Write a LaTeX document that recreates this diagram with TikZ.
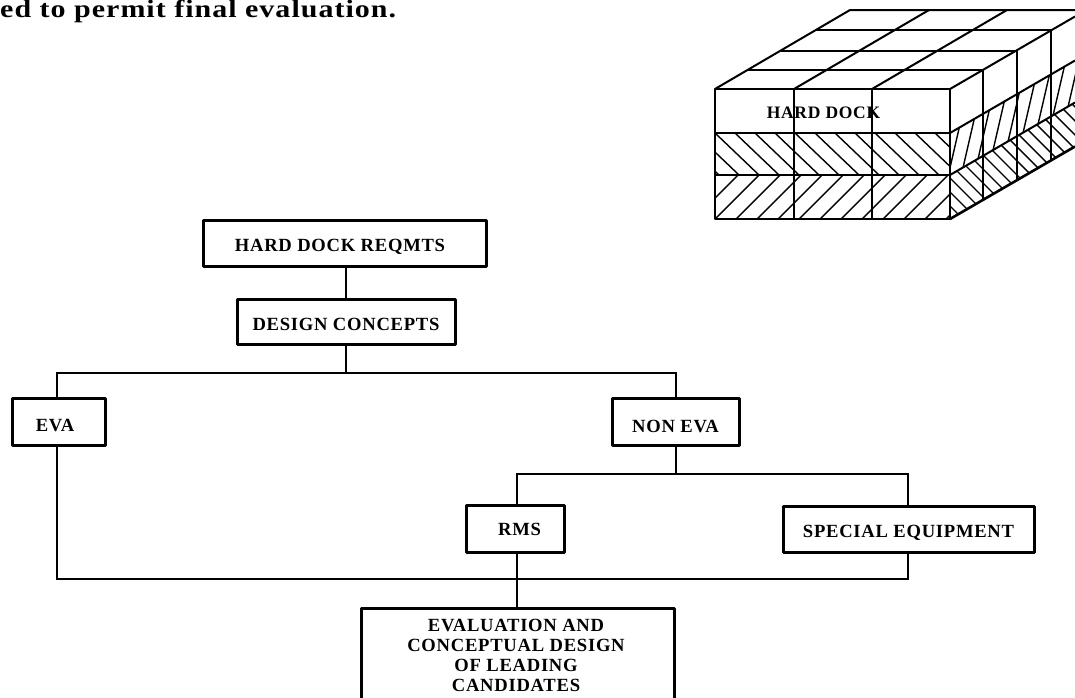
\documentclass[tikz,border=0pt]{standalone}
\usepackage{fontspec}
\setmainfont{Liberation Serif}[BoldFont={* Bold}]
\newcommand{\lbl}{\fontsize{18.6}{20}\selectfont\bfseries\addfontfeatures{LetterSpace=4}}
\newcommand{\lblcube}{\fontsize{17.5}{21}\selectfont\bfseries\addfontfeatures{LetterSpace=4}}
\newfontfamily\parafont{Liberation Serif Bold}[FakeStretch=1.2,LetterSpace=4]
\begin{document}
\begin{tikzpicture}[x=1pt,y=-1pt,
  flowbox/.style={draw=black,line width=3pt,line join=round,inner sep=0pt,font=\lbl,align=center,fill=white,text depth=0pt},
  conn/.style={draw=black,line width=1.8pt,line join=miter},
  edge3d/.style={draw=black,line width=2pt,line join=round},
  hatchline/.style={draw=black,line width=1.4pt},
  plain/.style={inner sep=0pt,align=center}]
\useasboundingbox (0,0) rectangle (1075,697);
\clip (0,0) rectangle (1075,697);

% running text
\node[inner sep=0pt,anchor=base west,font=\fontsize{25}{27}\parafont] (para) at (0,17.5) {ed to permit final evaluation.};

% hatching, front
\begin{scope}
  \clip (715,133) rectangle (950,175);
  \foreach \k in {-3,...,12} \draw[hatchline] (715+\k*20,133) -- ++(44,42);
\end{scope}
\begin{scope}
  \clip (715,175) rectangle (950,219);
  \foreach \k in {-1,...,13} \draw[hatchline] (715+\k*21,219) -- ++(44,-44);
\end{scope}
% hatching, side
\begin{scope}
  \clip (950,133) -- (1075,60.5) -- (1075,102.5) -- (950,175) -- cycle;
  \foreach \k in {0,...,10} \draw[hatchline] (946+\k*13,185) -- ++(30,-130);
\end{scope}
\begin{scope}
  \clip (950,175) -- (1075,102.5) -- (1075,146.5) -- (950,219) -- cycle;
  \foreach \k in {-6,...,15} \draw[hatchline] (890+\k*14,90) -- ++(140,140);
\end{scope}

% block outline
\draw[edge3d,line width=2.6pt] (715,89) rectangle (950,219);
\draw[edge3d] (715,133) -- (950,133) (715,175) -- (950,175);
\draw[edge3d] (794,89) -- (794,219) (872,89) -- (872,219);
\draw[edge3d] (715,89) -- (850,10) -- (1075,10);
\draw[edge3d] (794,89) -- (929,10) (872,89) -- (1007,10);
\draw[edge3d] (950,89) -- (1075,16.5);
\draw[edge3d] (747,70) -- (983,70) (781,51) -- (1017,51) (816,30) -- (1051,30);
\draw[edge3d] (950,133) -- (1075,60.5) (950,175) -- (1075,102.5);
\draw[edge3d,line width=2.6pt] (950,219) -- (1075,146.5);
\draw[edge3d] (983,70) -- (983,200) (1017,50) -- (1017,180) (1051,30) -- (1051,160);
\node[plain,font=\lblcube] (hdlabel) at (823.5,113) {HARD DOCK};

% junctions
\coordinate (j1) at (346,373);
\coordinate (jL) at (57,373);
\coordinate (jR) at (676,373);
\coordinate (j2) at (676,474);
\coordinate (j2L) at (517,474);
\coordinate (j2R) at (908,474);
\coordinate (j3) at (517,579);
\coordinate (j3L) at (57,579);
\coordinate (j3R) at (908,579);

% boxes
\node[flowbox,text height=17.4pt,minimum width=283pt,minimum height=46pt] (hd) at (344.5,243) {HARD DOCK REQMTS\hspace{9pt}};
\node[flowbox,text height=17pt,minimum width=218pt,minimum height=45pt] (dc) at (346,321.5) {DESIGN CONCEPTS};
\node[flowbox,text height=19pt,minimum width=93pt,minimum height=47pt] (eva) at (58.5,421.5) {EVA\hspace{7pt}};
\node[flowbox,text height=22pt,minimum width=127pt,minimum height=47pt] (nev) at (675.5,421.5) {NON EVA};
\node[flowbox,text height=14.4pt,minimum width=98pt,minimum height=47pt] (rms) at (515,528.5) {\hspace{9pt}RMS};
\node[flowbox,text height=17.4pt,minimum width=251pt,minimum height=46pt] (spe) at (908.5,529) {SPECIAL EQUIPMENT};
\node[flowbox,minimum width=313pt,minimum height=110pt,anchor=north] (evl) at (517.5,607) {};
\node[plain,font=\lbl,anchor=north] (evlt) at (516,619) {EVALUATION AND\\CONCEPTUAL DESIGN\\OF LEADING\\CANDIDATES\hspace{12pt}};

% connectors
\draw[conn] (j1 |- hd.south) -- (j1 |- dc.north);
\draw[conn] (j1 |- dc.south) -- (j1);
\draw[conn] (jL |- eva.north) -- (jL) -- (jR) -- (jR |- nev.north);
\draw[conn] (j2 |- nev.south) -- (j2);
\draw[conn] (j2L |- rms.north) -- (j2L) -- (j2R) -- (j2R |- spe.north);
\draw[conn] (jL |- eva.south) -- (j3L) -- (j3R) -- (j3R |- spe.south);
\draw[conn] (j3 |- rms.south) -- (j3 |- evl.north);
\end{tikzpicture}
\end{document}
